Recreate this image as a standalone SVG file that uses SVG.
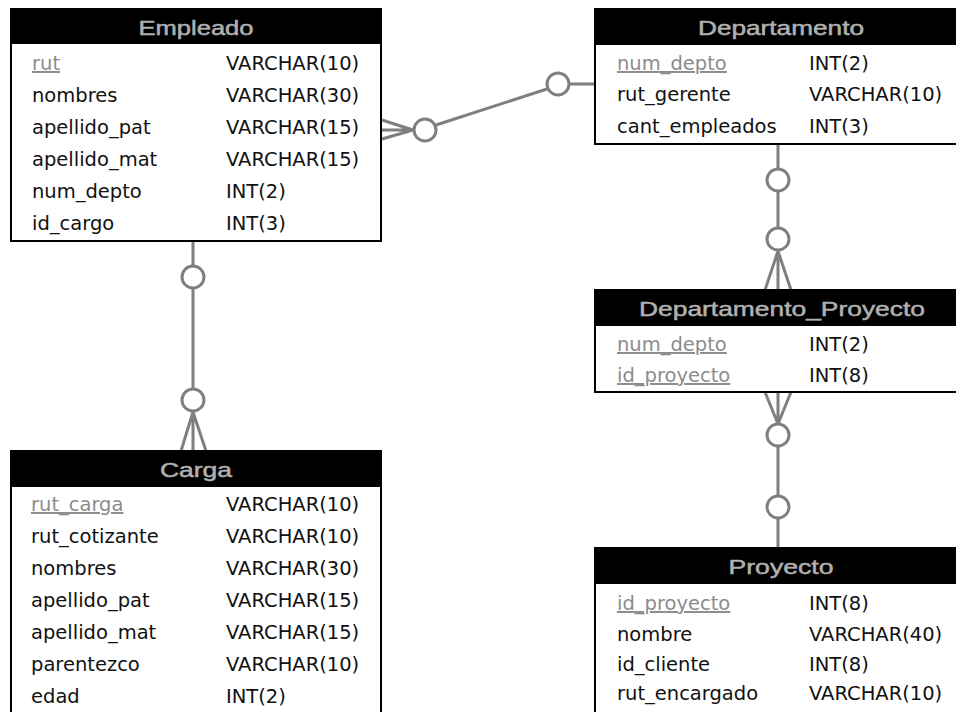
<svg xmlns="http://www.w3.org/2000/svg" width="956" height="712" viewBox="0 0 956 712">
  <style>
    .box { fill: #ffffff; stroke: #000000; stroke-width: 2; }
    .head { fill: #000000; }
    .title { font-family: "Liberation Sans", Arial, sans-serif; font-size: 21px; fill: #b0b0b0; stroke: #b0b0b0; stroke-width: 0.5; text-anchor: middle; }
    .col { font-family: "DejaVu Sans", "Liberation Sans", sans-serif; font-size: 19.5px; fill: #111111; }
    .pk { fill: #8c8c8c; text-decoration: underline; }
    .rel { fill: none; stroke: #7f7f7f; stroke-width: 3; }
    .opt { fill: #ffffff; stroke: #7f7f7f; stroke-width: 3; }
  </style>

  <rect width="956" height="712" fill="#ffffff"/>

  <!-- relationships -->
  <g id="connectors">
    <!-- Empleado >o——o| Departamento -->
    <path class="rel" d="M382,120 L413,130 M382,130 L413,130 M382,139 L413,130"/>
    <path class="rel" d="M436,125 L547,89 M570,84 L595,84"/>
    <circle class="opt" cx="425" cy="130" r="11"/>
    <circle class="opt" cx="558" cy="84" r="11"/>

    <!-- Empleado —o——o< Carga -->
    <path class="rel" d="M193,241 L193,265 M193,288 L193,389"/>
    <path class="rel" d="M193,412 L181,451 M193,412 L193,451 M193,412 L206,451"/>
    <circle class="opt" cx="193" cy="277" r="11"/>
    <circle class="opt" cx="193" cy="400" r="11"/>

    <!-- Departamento —o——o< Departamento_Proyecto -->
    <path class="rel" d="M778,144 L778,169 M778,191 L778,228"/>
    <path class="rel" d="M778,251 L765,290 M778,251 L778,290 M778,251 L791,290"/>
    <circle class="opt" cx="778" cy="180" r="11"/>
    <circle class="opt" cx="778" cy="239" r="11"/>

    <!-- Departamento_Proyecto >o——o— Proyecto -->
    <path class="rel" d="M765,392 L778,424 M778,392 L778,424 M791,392 L778,424"/>
    <path class="rel" d="M778,446 L778,496 M778,519 L778,548"/>
    <circle class="opt" cx="778" cy="435" r="11"/>
    <circle class="opt" cx="778" cy="507" r="11"/>
  </g>

  <g id="empleado">
    <rect class="box" x="11" y="9" width="370" height="232"/>
    <rect class="head" x="11" y="9" width="370" height="35"/>
    <text class="title" x="196" y="35" textLength="115" lengthAdjust="spacingAndGlyphs">Empleado</text>
    <text class="col pk" x="32" y="70">rut</text><text class="col" x="226" y="70">VARCHAR(10)</text>
    <text class="col" x="32" y="102">nombres</text><text class="col" x="226" y="102">VARCHAR(30)</text>
    <text class="col" x="32" y="134">apellido_pat</text><text class="col" x="226" y="134">VARCHAR(15)</text>
    <text class="col" x="32" y="166">apellido_mat</text><text class="col" x="226" y="166">VARCHAR(15)</text>
    <text class="col" x="32" y="198">num_depto</text><text class="col" x="226" y="198">INT(2)</text>
    <text class="col" x="32" y="230">id_cargo</text><text class="col" x="226" y="230">INT(3)</text>
  </g>

  <g id="departamento">
    <rect class="box" x="595" y="9" width="372" height="135"/>
    <rect class="head" x="595" y="9" width="372" height="36"/>
    <text class="title" x="781" y="35" textLength="166" lengthAdjust="spacingAndGlyphs">Departamento</text>
    <text class="col pk" x="617" y="70">num_depto</text><text class="col" x="809" y="70">INT(2)</text>
    <text class="col" x="617" y="101">rut_gerente</text><text class="col" x="809" y="101">VARCHAR(10)</text>
    <text class="col" x="617" y="133">cant_empleados</text><text class="col" x="809" y="133">INT(3)</text>
  </g>

  <g id="departamento_proyecto">
    <rect class="box" x="595" y="290" width="372" height="102"/>
    <rect class="head" x="595" y="290" width="372" height="36"/>
    <text class="title" x="782" y="316" textLength="286" lengthAdjust="spacingAndGlyphs">Departamento_Proyecto</text>
    <text class="col pk" x="617" y="351">num_depto</text><text class="col" x="809" y="351">INT(2)</text>
    <text class="col pk" x="617" y="382">id_proyecto</text><text class="col" x="809" y="382">INT(8)</text>
  </g>

  <g id="carga">
    <rect class="box" x="11" y="451" width="370" height="270"/>
    <rect class="head" x="11" y="451" width="370" height="36"/>
    <text class="title" x="196" y="477" textLength="72" lengthAdjust="spacingAndGlyphs">Carga</text>
    <text class="col pk" x="31" y="511">rut_carga</text><text class="col" x="226" y="511">VARCHAR(10)</text>
    <text class="col" x="31" y="543">rut_cotizante</text><text class="col" x="226" y="543">VARCHAR(10)</text>
    <text class="col" x="31" y="575">nombres</text><text class="col" x="226" y="575">VARCHAR(30)</text>
    <text class="col" x="31" y="607">apellido_pat</text><text class="col" x="226" y="607">VARCHAR(15)</text>
    <text class="col" x="31" y="639">apellido_mat</text><text class="col" x="226" y="639">VARCHAR(15)</text>
    <text class="col" x="31" y="671">parentezco</text><text class="col" x="226" y="671">VARCHAR(10)</text>
    <text class="col" x="31" y="703">edad</text><text class="col" x="226" y="703">INT(2)</text>
  </g>

  <g id="proyecto">
    <rect class="box" x="595" y="548" width="372" height="175"/>
    <rect class="head" x="595" y="548" width="372" height="36"/>
    <text class="title" x="781" y="574" textLength="105" lengthAdjust="spacingAndGlyphs">Proyecto</text>
    <text class="col pk" x="617" y="610">id_proyecto</text><text class="col" x="809" y="610">INT(8)</text>
    <text class="col" x="617" y="641">nombre</text><text class="col" x="809" y="641">VARCHAR(40)</text>
    <text class="col" x="617" y="671">id_cliente</text><text class="col" x="809" y="671">INT(8)</text>
    <text class="col" x="617" y="700">rut_encargado</text><text class="col" x="809" y="700">VARCHAR(10)</text>
  </g>
</svg>
